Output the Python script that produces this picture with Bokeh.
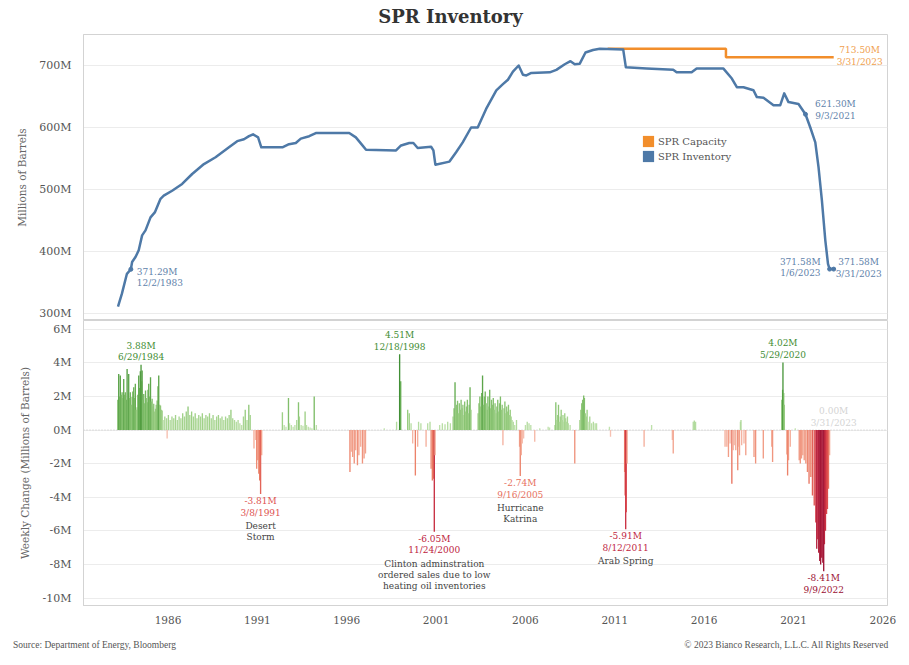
from bokeh.plotting import figure
from bokeh.layouts import column
from bokeh.models import (Range1d, FixedTicker, PrintfTickFormatter, Label,
                          Legend, LegendItem, Span, LinearAxis)
from bokeh.embed import file_html
from bokeh.resources import INLINE

FONT = "DejaVu Serif"
NAN = float("nan")

# ---------------- data ----------------
inv_dates = [1983.20, 1983.42, 1983.70, 1983.92, 1983.99, 1984.18, 1984.36, 1984.55,
             1984.74, 1985.02, 1985.26, 1985.58, 1985.76, 1986.23, 1986.79, 1987.35,
             1988.01, 1988.66, 1989.41, 1989.87, 1990.25, 1990.53, 1990.76, 1991.04,
             1991.22, 1992.40, 1992.77, 1993.15, 1993.43, 1993.90, 1994.27, 1996.14,
             1996.51, 1996.80, 1997.08, 1998.76, 1999.04, 1999.50, 1999.73, 1999.97,
             2000.72, 2000.85, 2000.96, 2001.75, 2002.12, 2002.49, 2002.96, 2003.33,
             2003.80, 2004.37, 2004.74, 2005.02, 2005.30, 2005.62, 2005.86, 2006.05,
             2006.33, 2007.36, 2007.73, 2008.20, 2008.52, 2008.76, 2009.04, 2009.36,
             2009.78, 2010.16, 2011.47, 2011.62, 2012.78, 2014.27, 2014.46, 2015.30,
             2015.58, 2017.08, 2017.55, 2017.83, 2018.20, 2018.76, 2018.95, 2019.32,
             2019.88, 2020.26, 2020.48, 2020.72, 2021.28, 2021.67, 2021.94, 2022.22,
             2022.40, 2022.59, 2022.78, 2022.93, 2023.02, 2023.25]
inv_values = [311, 332, 364, 371.29, 383, 391, 402, 426,
              434, 455, 463, 485, 490, 498, 509, 525,
              541, 552, 568, 578, 581, 586, 589, 584,
              568, 568, 573, 575, 582, 586, 591, 591,
              584, 574, 564, 563, 571, 575, 575, 567,
              569, 563, 540, 545, 560, 576, 600, 600,
              630, 660, 670, 677, 690, 700, 685, 684,
              688, 689, 693, 702, 707, 702, 703, 721,
              725, 727, 726, 697, 695, 693, 689, 689,
              695, 695, 679, 665, 665, 660, 649, 648,
              636, 636, 655, 641, 638, 621.3, 600, 576,
              536, 482, 418, 380, 371.58, 371.58]

cap_dates = [2010.60, 2017.22, 2017.22, 2023.25]
cap_values = [727.0, 727.0, 713.5, 713.5]

chg_dates_1980s = [
    1983.19, 1983.24, 1983.29, 1983.33, 1983.38, 1983.43, 1983.47, 1983.52, 1983.57, 1983.61,
    1983.66, 1983.71, 1983.75, 1983.80, 1983.85, 1983.89, 1983.94, 1983.99, 1984.03, 1984.08,
    1984.13, 1984.17, 1984.22, 1984.27, 1984.31, 1984.36, 1984.41, 1984.45, 1984.49, 1984.52,
    1984.55, 1984.60, 1984.64, 1984.69, 1984.74, 1984.78, 1984.83, 1984.88, 1984.92, 1984.97,
    1985.02, 1985.06, 1985.11, 1985.16, 1985.20, 1985.25, 1985.30, 1985.34, 1985.39, 1985.44,
    1985.48, 1985.53, 1985.58, 1985.62, 1985.67,
    1985.72, 1985.82, 1985.92, 1985.95, 1986.02, 1986.12, 1986.22, 1986.32, 1986.42, 1986.52,
    1986.62, 1986.72, 1986.82, 1986.92, 1987.02, 1987.12, 1987.22, 1987.32, 1987.42, 1987.52,
    1987.62, 1987.72, 1987.82, 1987.92, 1988.02, 1988.12, 1988.22, 1988.32, 1988.42, 1988.52,
    1988.62, 1988.72, 1988.82, 1988.92, 1989.02, 1989.12, 1989.22, 1989.32, 1989.42, 1989.52,
    1989.62, 1989.72, 1989.82, 1989.92, 1990.02, 1990.12]
chg_values_1980s = [
    1.8, 3.34, 2.0, 3.24, 2.1, 2.25, 1.9, 3.04, 2.1, 2.25,
    1.8, 3.64, 2.2, 3.34, 1.9, 2.25, 1.5, 1.96, 2.3, 2.55,
    1.9, 2.75, 1.2, 1.36, 2.1, 3.24, 2.5, 3.5, 3.88, 2.9,
    3.54, 1.8, 2.15, 1.6, 2.35, 1.9, 1.66, 2.4, 2.75, 2.0,
    3.14, 1.7, 1.86, 1.4, 1.56, 1.1, 1.26, 1.5, 1.76, 2.6,
    3.24, 1.5, 1.46, 1.2, 1.16,
    0.6, 0.8, 0.7, -0.5, 0.9, 0.6, 0.8, 0.7, 0.9, 0.6,
    0.8, 0.7, 1.0, 0.8, 1.1, 1.4, 0.9, 1.1, 0.8, 1.0,
    0.7, 0.9, 0.8, 1.0, 0.7, 0.9, 0.8, 1.0, 0.7, 0.9,
    0.6, 0.8, 0.9, 0.7, 0.8, 0.6, 0.8, 0.7, 0.9, 1.2,
    0.7, 0.6, 0.5, 0.6, 0.4, 0.3]

chg_dates_1990s = [
    1990.22, 1990.32, 1990.42, 1990.52, 1990.60,
    1990.81, 1990.90, 1990.96, 1991.02, 1991.08, 1991.13, 1991.18, 1991.24,
    1992.40, 1992.50, 1992.60, 1992.74, 1992.80, 1992.90, 1993.00, 1993.10, 1993.20, 1993.30,
    1993.35, 1993.45, 1993.55, 1993.67, 1993.75, 1993.85, 1993.95, 1994.05, 1994.18, 1994.30,
    1996.18, 1996.25, 1996.33, 1996.42, 1996.50, 1996.60, 1996.68, 1996.78, 1996.88, 1996.97,
    1997.05, 1998.10,
    1998.79, 1998.96, 1999.02, 1999.41, 1999.50, 1999.60, 1999.69, 1999.84, 1999.97]
chg_values_1990s = [
    0.8, 1.2, 0.6, 1.5, 0.9,
    -1.1, -0.6, -2.3, -1.8, -2.6, -3.0, -3.81, -1.5,
    1.06, 0.3, 0.2, 1.9, 0.4, 0.3, 0.2, 0.3, 0.6, 1.65,
    0.8, 0.3, 0.25, 1.1, 0.3, 0.2, 0.15, 0.1, 2.0, 0.3,
    -2.5, -1.3, -1.6, -2.0, -1.2, -2.1, -1.5, -1.0, -2.0, -1.7,
    -1.4, 0.1,
    0.5, 4.51, 2.9, 1.2, 1.0, 0.4, -0.8, -2.7, -1.0]

chg_dates_2000s = [
    2000.02, 2000.15, 2000.44, 2000.53, 2000.66, 2000.72, 2000.79, 2000.85, 2000.90, 2000.94,
    2001.20, 2001.35, 2001.50, 2001.65, 2001.80,
    2001.95, 2002.00, 2002.06, 2002.10, 2002.15, 2002.20, 2002.25, 2002.30, 2002.35, 2002.40,
    2002.45, 2002.50, 2002.55, 2002.60, 2002.65, 2002.70, 2002.75, 2002.80, 2002.85, 2002.90,
    2002.95,
    2003.35, 2003.40, 2003.45, 2003.50, 2003.55, 2003.60, 2003.65, 2003.70, 2003.75, 2003.80,
    2003.85, 2003.90, 2003.95, 2004.00, 2004.05, 2004.10, 2004.15, 2004.20, 2004.25, 2004.30,
    2004.35, 2004.40, 2004.45, 2004.50, 2004.55, 2004.60, 2004.65, 2004.70, 2004.74, 2004.80,
    2004.85, 2004.90, 2004.95, 2005.00, 2005.05, 2005.10, 2005.15, 2005.20, 2005.25, 2005.32,
    2005.40, 2005.50,
    2005.67, 2005.71, 2005.76, 2005.82, 2005.90, 2006.00, 2006.10, 2006.20, 2006.30, 2006.52,
    2006.80, 2007.27, 2007.35,
    2007.64, 2007.70, 2007.75, 2007.80, 2007.85, 2007.90, 2007.95, 2008.00, 2008.05, 2008.10,
    2008.15, 2008.20, 2008.25, 2008.30, 2008.35, 2008.40, 2008.50, 2008.76,
    2009.04, 2009.10, 2009.15, 2009.20, 2009.26, 2009.30, 2009.35, 2009.40, 2009.45, 2009.50,
    2009.60, 2009.70, 2009.80, 2009.90, 2009.98]
chg_values_2000s = [
    0.5, 0.4, -1.0, 0.4, 0.5, -2.3, -3.0, -2.9, -6.05, -1.5,
    0.3, 0.4, 0.35, 0.5, 0.4,
    0.8, 1.3, 2.85, 1.2, 1.5, 1.75, 1.0, 1.6, 1.2, 1.8,
    1.3, 1.5, 0.9, 1.7, 1.1, 1.4, 1.8, 1.0, 1.5, 2.55,
    1.2,
    1.0, 1.6, 2.0, 1.4, 2.2, 3.25, 1.5, 2.0, 2.3, 1.6,
    1.2, 2.0, 1.4, 2.4, 1.3, 1.8, 1.5, 1.9, 1.2, 1.6,
    1.0, 1.4, 1.8, 1.1, 1.6, 2.0, 1.2, 1.5, -0.9, 1.3,
    1.7, 1.0, 1.4, 1.1, 1.5, 0.9, 1.2, 0.8, 0.6, 0.5,
    0.3, 0.6,
    -1.0, -2.74, -1.5, -0.8, -0.5, 0.3, 0.5, 0.4, 0.3, -0.7,
    0.1, 0.2, 0.15,
    0.3, 1.65, 0.6, 0.9, 1.5, 0.5, 0.8, 1.2, 0.6, 0.9,
    0.5, 1.0, 0.7, 0.5, 0.8, 0.4, 0.3, -2.0,
    0.6, 1.2, 1.6, 1.8, 2.05, 1.9, 1.0, 0.8, 1.2, 0.5,
    0.8, 0.4, 0.5, 0.4, 0.4]

chg_dates_2010s = [
    2010.70, 2010.76,
    2011.55, 2011.58, 2011.61, 2011.64, 2011.68,
    2012.64, 2013.06, 2014.22, 2014.27, 2015.39, 2015.45, 2015.52,
    2017.17, 2017.27, 2017.36, 2017.45, 2017.55, 2017.62, 2017.68, 2017.77, 2017.88, 2017.93,
    2017.98, 2018.03, 2018.06, 2018.10, 2018.23, 2018.33, 2018.79, 2018.88, 2019.31, 2019.78,
    2019.83]
chg_values_2010s = [
    0.2, -0.4,
    -2.5, -3.9, -5.91, -4.9, -2.0,
    -1.0, 0.3, -0.6, -1.4, 0.5, 0.57, 0.5,
    -1.0, -1.0, -1.6, -0.8, -3.2, -1.2, -0.9, -1.2, -2.4, -1.0,
    -1.5, 0.5, 0.6, -0.9, -0.8, -1.5, -1.6, -2.0, -1.7, -1.0,
    -1.9]

chg_dates_2020s = [
    2020.35, 2020.39, 2020.41, 2020.45, 2020.48, 2020.63, 2020.67, 2020.72, 2020.82, 2021.10,
    2021.32, 2021.38, 2021.45, 2021.52, 2021.60, 2021.69, 2021.78, 2021.87, 2021.97, 2022.06,
    2022.16, 2022.25, 2022.30, 2022.36, 2022.41, 2022.47, 2022.52, 2022.58, 2022.64, 2022.69,
    2022.73, 2022.79, 2022.85, 2022.90, 2022.96, 2023.02, 2023.25]
chg_values_2020s = [
    1.8, 2.4, 4.02, 2.2, 1.5, -1.45, -2.7, -1.8, -1.0, 0.1,
    -1.8, -2.0, -1.7, -1.5, -1.8, -2.0, -2.5, -3.2, -2.8, -3.9,
    -4.5, -5.5, -7.07, -6.5, -7.3, -7.8, -8.0, -7.6, -7.9, -8.41,
    -6.8, -6.0, -5.0, -4.7, -3.5, -1.5, 0.0]

year_ticks = [1986, 1991, 1996, 2001, 2006, 2011, 2016, 2021, 2026]
inv_ticks = [300, 400, 500, 600, 700]
chg_ticks = [-10, -8, -6, -4, -2, 0, 2, 4, 6]

top_notes = [
    (1983.92, 371.29, ["371.29M", "12/2/1983"]),
    (2023.25, 713.50, ["713.50M", "3/31/2023"]),
    (2021.67, 621.30, ["621.30M", "9/3/2021"]),
    (2023.02, 371.58, ["371.58M", "1/6/2023"]),
    (2023.25, 371.58, ["371.58M", "3/31/2023"]),
]
bot_notes = [
    (1984.49, 3.88, ["3.88M", "6/29/1984"], []),
    (1991.18, -3.81, ["-3.81M", "3/8/1991"], ["Desert", "Storm"]),
    (1998.96, 4.51, ["4.51M", "12/18/1998"], []),
    (2000.90, -6.05, ["-6.05M", "11/24/2000"],
     ["Clinton adminstration", "ordered sales due to low", "heating oil inventories"]),
    (2005.71, -2.74, ["-2.74M", "9/16/2005"], ["Hurricane", "Katrina"]),
    (2011.61, -5.91, ["-5.91M", "8/12/2011"], ["Arab Spring"]),
    (2020.41, 4.02, ["4.02M", "5/29/2020"], []),
    (2022.69, -8.41, ["-8.41M", "9/9/2022"], []),
    (2023.25, 0.00, ["0.00M", "3/31/2023"], []),
]

title_text = "SPR Inventory"
source_text = "Source: Department of Energy, Bloomberg"
copyright_text = "\u00a9 2023 Bianco Research, L.L.C. All Rights Reserved"

chg_dates = chg_dates_1980s + chg_dates_1990s + chg_dates_2000s + chg_dates_2010s + chg_dates_2020s
chg_values = chg_values_1980s + chg_values_1990s + chg_values_2000s + chg_values_2010s + chg_values_2020s

# ---------------- styling helpers ----------------
W = 909
FRAME_L, FRAME_R = 83, 887
BLUE = "#4e79a7"
ORANGE = "#f28e2b"
BLUE_TXT = "#5f83ab"
ORANGE_TXT = "#f0a04e"
GRID = "#ececec"
FRAME = "#d3d3d3"

GREEN_STOPS = [(0, "#c9e6b8"), (1, "#a0d188"), (2.5, "#6cb257"), (4.6, "#3f8d33")]
RED_STOPS = [(0, "#f8cdc0"), (1.5, "#f2a08a"), (3, "#ea7a62"), (5, "#d9434a"),
             (6.5, "#c0263f"), (8.5, "#9b1133")]


def _rgb(h):
    return tuple(int(h[i:i + 2], 16) for i in (1, 3, 5))


def _interp(stops, v):
    if v <= stops[0][0]:
        return stops[0][1]
    for (a, ca), (b, cb) in zip(stops[:-1], stops[1:]):
        if v <= b:
            t = (v - a) / (b - a)
            ra, rb = _rgb(ca), _rgb(cb)
            return "#%02x%02x%02x" % tuple(int(round(x + (y - x) * t)) for x, y in zip(ra, rb))
    return stops[-1][1]


def bar_color(v):
    return _interp(GREEN_STOPS, v) if v >= 0 else _interp(RED_STOPS, -v)


def note_color(v):
    if v == 0:
        return "#d4d4d4"
    return _interp(GREEN_STOPS, v + 0.8) if v > 0 else _interp(RED_STOPS, -v + 0.6)


def style_yaxis(ax, ticks, label, standoff):
    ax.ticker = FixedTicker(ticks=ticks)
    ax.formatter = PrintfTickFormatter(format="%dM")
    ax.axis_label = label
    ax.axis_label_text_font = FONT
    ax.axis_label_text_font_style = "normal"
    ax.axis_label_text_font_size = "10.5px"
    ax.axis_label_text_color = "#666666"
    ax.axis_label_standoff = standoff
    ax.major_label_text_font = FONT
    ax.major_label_text_font_size = "11px"
    ax.major_label_text_color = "#555555"
    ax.major_label_standoff = 6
    ax.major_tick_line_color = None
    ax.minor_tick_line_color = None
    ax.axis_line_color = FRAME


x_range = Range1d(1981.27, 2026.26)

# ---------------- header (frame aligned with chart frames: x in page pixels) ----------------
head = figure(width=W, height=34, x_range=Range1d(FRAME_L, FRAME_R), y_range=Range1d(34, 0),
              x_axis_location=None, y_axis_location=None, output_backend="svg",
              toolbar_location=None, min_border_left=FRAME_L, min_border_right=W - FRAME_R,
              min_border_top=0, min_border_bottom=0)
head.outline_line_color = None
head.xgrid.grid_line_color = None
head.ygrid.grid_line_color = None
head.add_layout(Label(x=450, y=16, text=title_text, text_align="center",
                      text_baseline="middle", text_font=FONT, text_font_size="18px",
                      text_font_style="bold", text_color="#333333"))

# ---------------- top panel ----------------
top = figure(width=W, height=286, x_range=x_range, y_range=Range1d(288.7, 750),
             x_axis_location=None, output_backend="svg", toolbar_location=None,
             min_border_left=FRAME_L, min_border_right=W - FRAME_R,
             min_border_top=0, min_border_bottom=0)
top.outline_line_color = FRAME
top.xgrid.grid_line_color = None
top.ygrid.ticker = FixedTicker(ticks=inv_ticks)
top.ygrid.grid_line_color = GRID
style_yaxis(top.yaxis[0], inv_ticks, "Millions of Barrels", 8)

cap_r = top.line(cap_dates, cap_values, line_color=ORANGE, line_width=2.5)
inv_r = top.line(inv_dates, inv_values, line_color=BLUE, line_width=2.5, line_join="round")
note_x = [n[0] for n in top_notes if n[2][0] != "713.50M"]
note_y = [n[1] for n in top_notes if n[2][0] != "713.50M"]
top.scatter(note_x, note_y, size=4, color=BLUE)

sw_cap = top.quad(left=[NAN], right=[NAN], top=[NAN], bottom=[NAN],
                  fill_color=ORANGE, line_color=None)
sw_inv = top.quad(left=[NAN], right=[NAN], top=[NAN], bottom=[NAN],
                  fill_color=BLUE, line_color=None)
legend = Legend(items=[LegendItem(label="SPR Capacity", renderers=[sw_cap]),
                       LegendItem(label="SPR Inventory", renderers=[sw_inv])],
                location=(558, 157), border_line_color=None, background_fill_alpha=0,
                label_text_font=FONT, label_text_font_size="10px", label_text_color="#555555",
                glyph_width=14, glyph_height=14, spacing=1, padding=0, margin=0,
                label_standoff=3, label_height=14)
top.add_layout(legend)

top_styles = {  # x offset, y offsets of the two lines, alignment, colour
    "371.29M": (6, (-3, -14), "left", BLUE_TXT),
    "713.50M": (26, (7, -5), "center", ORANGE_TXT),
    "621.30M": (30, (10, -2), "center", BLUE_TXT),
    "1/6/2023": (-9, (7, -4), "right", BLUE_TXT),
    "3/31/2023": (25, (7, -5), "center", BLUE_TXT),
}
for d, v, lines in top_notes:
    key = lines[0] if lines[0] in top_styles else lines[1]
    dx, dys, align, col = top_styles[key]
    for txt, dy in zip(lines, dys):
        top.add_layout(Label(x=d, y=v, text=txt, x_offset=dx, y_offset=dy,
                             text_align=align, text_baseline="middle",
                             text_font=FONT, text_font_size="9px", text_color=col))

# ---------------- bottom panel ----------------
bot = figure(width=W, height=340, x_range=x_range, y_range=Range1d(-10.446, 6.52),
             output_backend="svg", toolbar_location=None,
             min_border_left=FRAME_L, min_border_right=W - FRAME_R,
             min_border_top=0, min_border_bottom=55)
bot.outline_line_color = FRAME
bot.xgrid.grid_line_color = None
bot.ygrid.ticker = FixedTicker(ticks=chg_ticks)
bot.ygrid.grid_line_color = GRID
style_yaxis(bot.yaxis[0], chg_ticks, "Weekly Change (Millions of Barrels)", 9)

xax = bot.xaxis[0]
xax.ticker = FixedTicker(ticks=year_ticks)
xax.formatter = PrintfTickFormatter(format="%d")
xax.major_label_text_font = FONT
xax.major_label_text_font_size = "10.5px"
xax.major_label_text_color = "#555555"
xax.major_label_standoff = 4
xax.major_tick_line_color = None
xax.minor_tick_line_color = None
xax.axis_line_color = FRAME

# footer line: a second bottom axis in page-pixel units carrying the source / copyright texts
source_center, copyright_center = 94, 786
bot.extra_x_ranges = {"page": Range1d(FRAME_L, FRAME_R)}
foot_axis = LinearAxis(x_range_name="page",
                       ticker=FixedTicker(ticks=[source_center, copyright_center]),
                       major_label_overrides={source_center: source_text,
                                              copyright_center: copyright_text},
                       major_label_text_font="Liberation Serif",
                       major_label_text_font_size="9.5px",
                       major_label_text_color="#555555",
                       major_label_standoff=7,
                       axis_line_color=None, major_tick_line_color=None,
                       minor_tick_line_color=None)
bot.add_layout(foot_axis, "below")

bot.add_layout(Span(location=0, dimension="width", line_color="#c4c4c4",
                    line_dash="1 2", line_width=1, level="underlay"))
bot.vbar(x=chg_dates, top=chg_values, bottom=0, width=0.075,
         fill_color=[bar_color(v) for v in chg_values], line_color=None)

for d, v, lines, event in bot_notes:
    col = note_color(v)
    offs = [19, 7.5] if v >= 0 else [-7, -18.5]
    for txt, dy in zip(lines, offs):
        bot.add_layout(Label(x=d, y=v, text=txt, y_offset=dy, text_align="center",
                             text_baseline="middle", text_font=FONT, text_font_size="9px",
                             text_color=col))
    for i, txt in enumerate(event):
        bot.add_layout(Label(x=d, y=v, text=txt, y_offset=-32 - 11 * i, text_align="center",
                             text_baseline="middle", text_font=FONT, text_font_size="9px",
                             text_color="#444444"))

p = column(head, top, bot, spacing=0)
open("out.html", "w").write(file_html(p, INLINE))
